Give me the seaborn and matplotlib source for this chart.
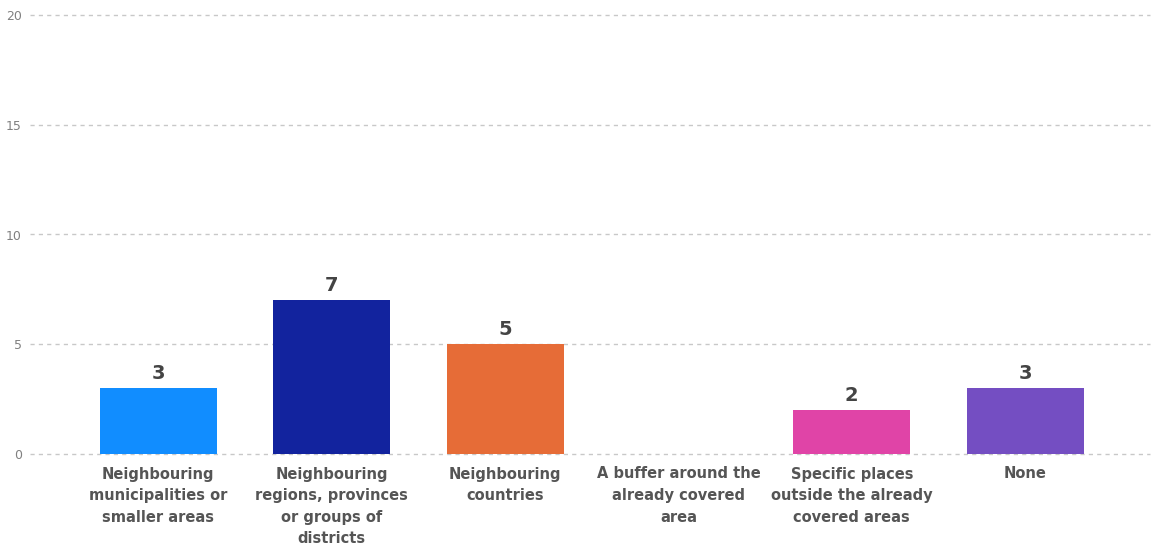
import matplotlib
matplotlib.use("Agg")
import matplotlib.pyplot as plt
import seaborn as sns
import pandas as pd

categories = [
    "Neighbouring\nmunicipalities or\nsmaller areas",
    "Neighbouring\nregions, provinces\nor groups of\ndistricts",
    "Neighbouring\ncountries",
    "A buffer around the\nalready covered\narea",
    "Specific places\noutside the already\ncovered areas",
    "None",
]
counts = [3, 7, 5, 0, 2, 3]
colors = ["#118DFF", "#12239E", "#E66C37", "#6B007B", "#E044A7", "#744EC2"]
y_ticks = [0, 5, 10, 15, 20]

sns.set_theme(style="white")
plt.rcParams["font.family"] = ["DejaVu Sans"]

df = pd.DataFrame({"category": categories, "count": counts})

fig = plt.figure(figsize=(11.57, 5.49), dpi=100)
ax = fig.add_axes([30 / 1157, 95 / 549, 1120 / 1157, 439 / 549])

sns.barplot(data=df, x="category", y="count", hue="category",
            palette=colors, legend=False, width=0.675, ax=ax,
            saturation=1, linewidth=0)

ax.set_ylim(0, 20)
ax.set_xlim(-0.74, 5.72)
ax.set_yticks(y_ticks)
ax.yaxis.grid(True, linestyle=(0, (3, 3)), color="#C8C8C8", linewidth=1)
for gl in ax.yaxis.get_gridlines():
    gl.set_clip_on(False)
ax.set_axisbelow(True)
for s in ax.spines.values():
    s.set_visible(False)
ax.set_xlabel("")
ax.set_ylabel("")
ax.tick_params(axis="y", length=0, pad=6, labelsize=9, labelcolor="#808080")
ax.tick_params(axis="x", length=0, pad=9)
for lab in ax.get_xticklabels():
    lab.set_fontsize(10.5)
    lab.set_fontweight("bold")
    lab.set_color("#555555")
    lab.set_linespacing(1.55)
    lab.set_verticalalignment("top")

for i, v in enumerate(counts):
    if v > 0:
        ax.text(i, v + 0.25, str(v), ha="center", va="bottom",
                fontsize=14, fontweight="bold", color="#444444")

fig.savefig("out.png", dpi=100, facecolor="white")
